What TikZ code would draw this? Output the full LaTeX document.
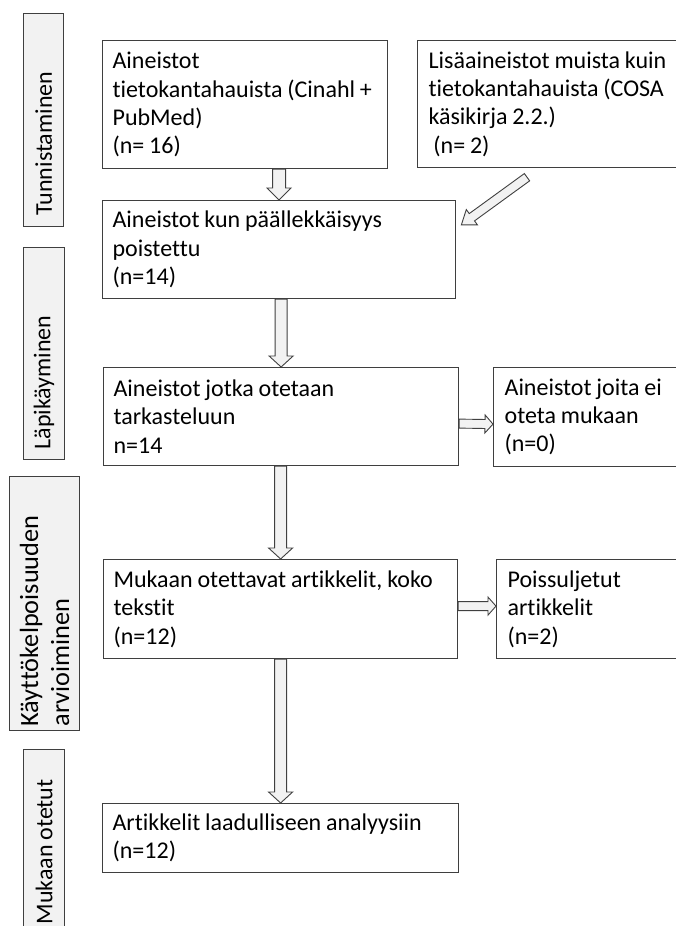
\documentclass[tikz,border=0pt]{standalone}
\usepackage{fontspec}
\setmainfont{Carlito}[Ligatures=NoCommon]
\usetikzlibrary{calc}
\definecolor{boxline}{HTML}{3F3F3F}
\definecolor{labelfill}{HTML}{F2F2F2}
\definecolor{arrowfill}{HTML}{F2F2F2}
\definecolor{arrowline}{HTML}{404040}
\tikzset{
  mainfont/.style={font=\fontsize{24}{28.3}\selectfont},
  tightspace/.style={execute at begin node={\spaceskip=0.2em plus 0.05em minus 0.02em\relax}},
  flowbox/.style={draw=boxline, fill=white, line width=1.2pt, mainfont, tightspace,
    anchor=north west, align=left, inner xsep=10pt, inner ysep=0pt},
  labelbox/.style={draw=boxline, fill=labelfill, line width=1.2pt, mainfont, tightspace,
    rotate=90, anchor=north west, align=left, inner xsep=10pt, inner ysep=0pt},
  blockarrow/.style n args={3}{draw=arrowline, fill=arrowfill, line width=0.9pt, line join=miter,
    to path={let \p1=(\tikztostart), \p2=(\tikztotarget),
      \n1={atan2(\y2-\y1,\x2-\x1)}, \n2={veclen(\x2-\x1,\y2-\y1)} in
      {[shift={(\p1)}, rotate=\n1]
        (0pt,-#1pt) -- ({\n2*1pt-#3pt},-#1pt) -- ({\n2*1pt-#3pt},-#2pt) -- ({\n2*1pt},0pt)
        -- ({\n2*1pt-#3pt},#2pt) -- ({\n2*1pt-#3pt},#1pt) -- (0pt,#1pt) -- cycle}}}
}
\begin{document}
\begin{tikzpicture}[x=1pt,y=-1pt]
\fill[white] (0,0) rectangle (675,926);
\useasboundingbox (0,0) rectangle (675,926);

% phase labels
\node[labelbox, minimum width=213pt, minimum height=40pt, text width=191pt, inner xsep=11pt] (l1) at (23,227) {Tunnistaminen};
\node[labelbox, minimum width=212pt, minimum height=41pt, text width=192pt] (l2) at (23,460) {Läpikäyminen};
\node[labelbox, minimum width=254pt, minimum height=70pt, text width=246pt, inner xsep=4pt,
  font=\fontsize{26.3}{31}\selectfont] (l3) at (9,731) {Käyttökelpoisuuden\\arvioiminen};
\node[labelbox, minimum width=185pt, minimum height=41pt, text width=165pt] (l4) at (23,935) {Mukaan otetut};

% flow boxes
\node[flowbox, minimum width=285pt, minimum height=128pt, text width=265pt] (b1) at (102,40)
  {Aineistot\\\mbox{tietokantahauista (Cinahl +}\\PubMed)\\(n= 16)};
\node[flowbox, minimum width=273pt, minimum height=127pt, text width=253pt, inner xsep=11pt] (b3) at (417,40)
  {\mbox{Lisäaineistot muista kuin}\\\mbox{tietokantahauista (COSA}\\käsikirja 2.2.)\\\hspace*{0.2em}(n= 2)};
\node[flowbox, minimum width=353pt, minimum height=98pt, text width=333pt] (b2) at (102,200)
  {Aineistot kun päällekkäisyys\\poistettu\\(n=14)};
\node[flowbox, minimum width=355pt, minimum height=98pt, text width=335pt] (b4) at (103,367)
  {Aineistot jotka otetaan\\tarkasteluun\\n=14};
\node[flowbox, minimum width=197pt, minimum height=99pt, text width=175pt, inner xsep=11pt] (b5) at (493,367)
  {\mbox{Aineistot joita ei}\\oteta mukaan\\(n=0)};
\node[flowbox, minimum width=354pt, minimum height=99pt, text width=334pt] (b6) at (103,559)
  {\mbox{Mukaan otettavat artikkelit, koko}\\tekstit\\(n=12)};
\node[flowbox, minimum width=194pt, minimum height=99pt, text width=172pt, inner xsep=11pt] (b7) at (496,559)
  {Poissuljetut\\artikkelit\\(n=2)};
\node[flowbox, minimum width=356pt, minimum height=69pt, text width=336pt] (b8) at (102,803)
  {Artikkelit laadulliseen analyysiin\\(n=12)};

% block arrows
\draw[blockarrow={6.5}{12}{12}] (b2.north |- b1.south) to (b2.north);
\draw[blockarrow={6}{12}{11}] (b4.north |- b2.south) to (b4.north);
\draw[blockarrow={6}{12}{11}] (b6.north |- b4.south) to (b6.north);
\draw[blockarrow={6}{12}{11}] (b8.north |- b6.south) to (b8.north);
\draw[blockarrow={4.5}{9}{8}] ([yshift=-7pt]b4.east) to ([yshift=-7pt]b5.west);
\draw[blockarrow={4.5}{9}{8}] ([yshift=3pt]b6.east) to ([yshift=3pt]b7.west);
\draw[blockarrow={4.5}{9.5}{13}] ([shift={(110pt,-9pt)}]b3.south west) to ([shift={(5pt,-25pt)}]b2.north east);
\end{tikzpicture}
\end{document}
